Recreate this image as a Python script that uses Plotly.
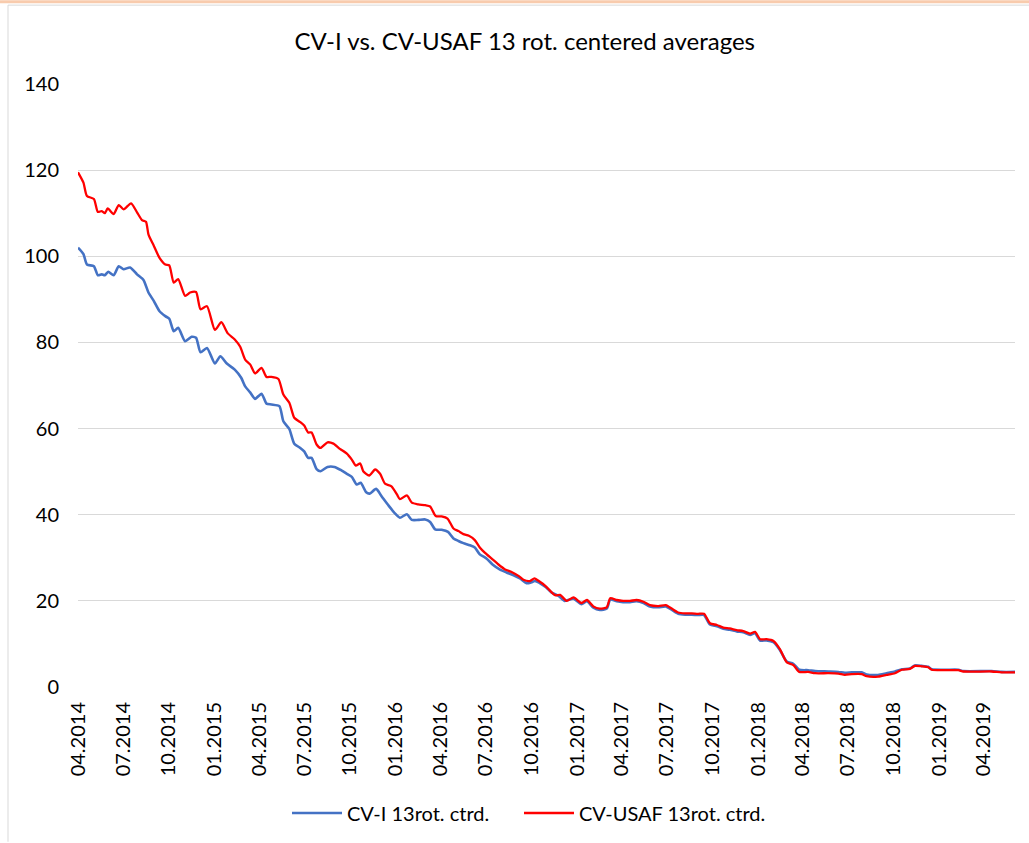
import plotly.graph_objects as go

title_text = "CV-I vs. CV-USAF 13 rot. centered averages"
series_names = ["CV-I 13rot. ctrd.", "CV-USAF 13rot. ctrd."]

cv_usaf_dates = [
    "2014-04-01", "2014-04-12", "2014-04-19", "2014-05-03", "2014-05-11", "2014-05-19", "2014-05-25", "2014-05-31",
    "2014-06-12", "2014-06-22", "2014-07-02", "2014-07-17", "2014-07-29", "2014-08-08", "2014-08-16", "2014-08-21",
    "2014-09-01", "2014-09-12", "2014-09-24", "2014-10-02", "2014-10-11", "2014-10-20", "2014-11-03", "2014-11-13",
    "2014-11-25", "2014-12-04", "2014-12-17", "2015-01-02", "2015-01-15", "2015-01-28", "2015-02-11", "2015-02-22",
    "2015-03-04", "2015-03-14", "2015-03-24", "2015-04-06", "2015-04-16", "2015-04-26", "2015-05-10", "2015-05-20",
    "2015-06-01", "2015-06-11", "2015-06-23", "2015-07-01", "2015-07-09", "2015-07-16", "2015-07-26", "2015-08-03",
    "2015-08-17", "2015-08-29", "2015-09-11", "2015-09-25", "2015-10-05", "2015-10-13", "2015-10-22", "2015-10-28",
    "2015-11-09", "2015-11-21", "2015-12-01", "2015-12-11", "2015-12-24", "2016-01-04", "2016-01-10", "2016-01-24",
    "2016-02-03", "2016-02-16", "2016-03-01", "2016-03-11", "2016-03-22", "2016-04-03", "2016-04-15", "2016-04-27",
    "2016-05-07", "2016-05-17", "2016-05-28", "2016-06-09", "2016-06-19", "2016-06-29", "2016-07-13", "2016-07-26",
    "2016-08-09", "2016-08-22", "2016-09-05", "2016-09-15", "2016-09-28", "2016-10-07", "2016-10-16", "2016-10-29",
    "2016-11-08", "2016-11-18", "2016-11-28", "2016-12-11", "2016-12-25", "2017-01-10", "2017-01-21", "2017-02-03",
    "2017-02-16", "2017-03-02", "2017-03-09", "2017-03-22", "2017-04-04", "2017-04-18", "2017-05-01", "2017-05-15",
    "2017-05-28", "2017-06-14", "2017-06-29", "2017-07-11", "2017-07-24", "2017-08-07", "2017-08-20", "2017-09-02",
    "2017-09-14", "2017-09-26", "2017-10-10", "2017-10-23", "2017-11-05", "2017-11-19", "2017-12-02", "2017-12-16",
    "2017-12-26", "2018-01-05", "2018-01-18", "2018-02-01", "2018-02-14", "2018-02-28", "2018-03-13", "2018-03-25",
    "2018-04-12", "2018-04-26", "2018-05-23", "2018-06-12", "2018-06-25", "2018-07-09", "2018-07-29", "2018-08-08",
    "2018-08-31", "2018-09-17", "2018-10-04", "2018-10-18", "2018-11-03", "2018-11-13", "2018-11-27", "2018-12-10",
    "2018-12-17", "2019-01-13", "2019-02-09", "2019-02-19", "2019-04-17", "2019-05-07", "2019-06-03",
]
cv_usaf_values = [
    119.5, 117.1, 114.0, 113.3, 110.3, 110.5, 110.0, 111.1,
    109.8, 111.9, 110.9, 112.3, 110.2, 108.4, 108.0, 105.1,
    102.4, 99.7, 98.1, 97.9, 93.9, 94.7, 90.8, 91.6,
    91.7, 87.7, 88.4, 82.9, 84.7, 82.1, 80.7, 79.0,
    76.0, 74.9, 72.8, 74.1, 72.0, 72.0, 71.5, 67.9,
    66.0, 62.5, 61.5, 60.7, 59.1, 59.1, 56.3, 55.5,
    56.8, 56.5, 55.3, 54.2, 52.8, 51.4, 51.9, 50.1,
    49.1, 50.5, 49.5, 47.2, 46.6, 44.7, 43.6, 44.5,
    42.8, 42.4, 42.2, 41.9, 39.7, 39.6, 39.1, 36.8,
    36.2, 35.5, 35.1, 34.1, 32.4, 31.2, 29.8, 28.5,
    27.3, 26.7, 25.8, 24.9, 24.6, 25.2, 24.6, 23.5,
    22.3, 21.3, 21.4, 20.0, 20.8, 19.5, 20.2, 18.7,
    18.2, 18.5, 20.6, 20.2, 20.0, 20.0, 20.2, 19.8,
    19.0, 18.8, 19.0, 18.2, 17.3, 17.1, 17.1, 17.0,
    17.0, 14.8, 14.4, 13.8, 13.6, 13.2, 13.0, 12.4,
    12.8, 11.1, 11.1, 10.7, 8.8, 5.7, 5.1, 3.5,
    3.5, 3.2, 3.2, 3.1, 2.8, 3.0, 3.0, 2.5,
    2.4, 2.8, 3.2, 4.0, 4.2, 4.9, 4.8, 4.6,
    4.0, 3.9, 3.9, 3.6, 3.6, 3.4, 3.4,
]

cv_i_dates = [
    "2014-04-01", "2014-04-12", "2014-04-19", "2014-05-03", "2014-05-11", "2014-05-19", "2014-05-25", "2014-06-01",
    "2014-06-12", "2014-06-22", "2014-07-02", "2014-07-15", "2014-07-29", "2014-08-11", "2014-08-21", "2014-09-01",
    "2014-09-12", "2014-09-24", "2014-10-02", "2014-10-11", "2014-10-20", "2014-11-03", "2014-11-16", "2014-11-25",
    "2014-12-04", "2014-12-17", "2015-01-02", "2015-01-13", "2015-01-26", "2015-02-11", "2015-02-24", "2015-03-04",
    "2015-03-14", "2015-03-24", "2015-04-06", "2015-04-16", "2015-04-26", "2015-05-12", "2015-05-20", "2015-06-01",
    "2015-06-11", "2015-06-23", "2015-07-01", "2015-07-09", "2015-07-16", "2015-07-26", "2015-08-03", "2015-08-17",
    "2015-08-31", "2015-09-14", "2015-09-25", "2015-10-05", "2015-10-15", "2015-10-23", "2015-11-03", "2015-11-10",
    "2015-11-23", "2015-12-04", "2015-12-17", "2015-12-31", "2016-01-10", "2016-01-24", "2016-02-03", "2016-02-16",
    "2016-03-01", "2016-03-11", "2016-03-21", "2016-04-03", "2016-04-16", "2016-04-27", "2016-05-07", "2016-05-17",
    "2016-05-30", "2016-06-09", "2016-06-19", "2016-07-03", "2016-07-16", "2016-07-29", "2016-08-12", "2016-08-25",
    "2016-09-08", "2016-09-21", "2016-10-01", "2016-10-08", "2016-10-21", "2016-10-31", "2016-11-11", "2016-11-24",
    "2016-12-07", "2016-12-25", "2017-01-10", "2017-01-21", "2017-02-03", "2017-02-16", "2017-03-02", "2017-03-09",
    "2017-03-22", "2017-04-04", "2017-04-18", "2017-05-01", "2017-05-15", "2017-05-28", "2017-06-14", "2017-06-29",
    "2017-07-11", "2017-07-24", "2017-08-07", "2017-08-20", "2017-09-02", "2017-09-14", "2017-09-26", "2017-10-10",
    "2017-10-23", "2017-11-05", "2017-11-19", "2017-12-02", "2017-12-16", "2017-12-26", "2018-01-05", "2018-01-18",
    "2018-02-01", "2018-02-14", "2018-02-28", "2018-03-13", "2018-03-25", "2018-04-12", "2018-04-26", "2018-05-23",
    "2018-06-12", "2018-06-25", "2018-07-09", "2018-07-29", "2018-08-08", "2018-08-31", "2018-09-17", "2018-10-04",
    "2018-10-18", "2018-11-03", "2018-11-13", "2018-11-27", "2018-12-10", "2018-12-17", "2019-01-13", "2019-02-09",
    "2019-02-19", "2019-04-17", "2019-05-07", "2019-06-03",
]
cv_i_values = [
    102.0, 100.5, 98.1, 97.7, 95.6, 95.8, 95.6, 96.4,
    95.6, 97.7, 97.0, 97.4, 95.8, 94.5, 91.6, 89.6,
    87.3, 86.1, 85.5, 82.6, 83.4, 80.3, 81.3, 81.1,
    77.7, 78.7, 75.1, 76.8, 75.1, 73.7, 71.8, 69.8,
    68.4, 66.9, 68.1, 65.8, 65.6, 65.2, 61.7, 59.9,
    56.5, 55.5, 54.7, 53.2, 53.2, 50.6, 50.1, 51.1,
    51.1, 50.3, 49.5, 48.8, 47.0, 47.4, 45.2, 44.9,
    46.0, 44.3, 42.3, 40.3, 39.3, 40.1, 38.8, 38.8,
    38.9, 38.3, 36.6, 36.5, 36.0, 34.5, 33.9, 33.4,
    32.9, 32.4, 30.8, 29.8, 28.3, 27.3, 26.6, 26.0,
    25.2, 24.1, 24.3, 24.6, 23.9, 23.1, 21.9, 21.2,
    20.0, 20.5, 19.2, 19.9, 18.4, 17.9, 18.2, 20.3,
    19.9, 19.7, 19.7, 19.9, 19.5, 18.7, 18.5, 18.7,
    17.9, 17.0, 16.8, 16.8, 16.7, 16.7, 14.5, 14.1,
    13.5, 13.3, 12.9, 12.7, 12.1, 12.5, 10.8, 10.8,
    10.4, 8.6, 5.9, 5.4, 4.0, 3.9, 3.7, 3.6,
    3.5, 3.3, 3.4, 3.4, 2.9, 2.8, 3.2, 3.6,
    4.1, 4.3, 5.0, 4.9, 4.7, 4.1, 4.0, 4.0,
    3.7, 3.7, 3.5, 3.5,
]

tick_dates = [
    "2014-04-01", "2014-07-01", "2014-10-01", "2015-01-01", "2015-04-01", "2015-07-01", "2015-10-01",
    "2016-01-01", "2016-04-01", "2016-07-01", "2016-10-01", "2017-01-01", "2017-04-01", "2017-07-01",
    "2017-10-01", "2018-01-01", "2018-04-01", "2018-07-01", "2018-10-01", "2019-01-01", "2019-04-01",
]
tick_labels = [
    "04.2014", "07.2014", "10.2014", "01.2015", "04.2015", "07.2015", "10.2015",
    "01.2016", "04.2016", "07.2016", "10.2016", "01.2017", "04.2017", "07.2017",
    "10.2017", "01.2018", "04.2018", "07.2018", "10.2018", "01.2019", "04.2019",
]
y_ticks = [0, 20, 40, 60, 80, 100, 120, 140]

FONT = "Lato"
W, H = 1029, 843
L, R, T, B = 78, 14, 84, 155
pw, ph = W - L - R, H - T - B


def px(x):
    return (x - L) / pw


def py(y):
    return (H - B - y) / ph


fig = go.Figure()
fig.add_trace(go.Scatter(x=cv_i_dates, y=cv_i_values, mode="lines", name=series_names[0], legend="legend",
                         line=dict(color="#4472C4", width=2.6, shape="spline", smoothing=0.6)))
fig.add_trace(go.Scatter(x=cv_usaf_dates, y=cv_usaf_values, mode="lines", name=series_names[1], legend="legend2",
                         line=dict(color="#FF0000", width=2.3, shape="spline", smoothing=0.6)))

shapes = [
    dict(type="rect", xref="paper", yref="paper", x0=px(0), x1=px(W), y0=py(3), y1=py(0),
         fillcolor="#F8CBAD", line=dict(width=0), layer="below"),
    dict(type="line", xref="paper", yref="paper", x0=px(8), x1=px(W), y0=py(5), y1=py(5),
         line=dict(color="#D9D9D9", width=1)),
    dict(type="line", xref="paper", yref="paper", x0=px(8), x1=px(8), y0=py(5), y1=py(H),
         line=dict(color="#D9D9D9", width=1)),
]

legend_common = dict(orientation="h", xanchor="left", y=py(813), yanchor="middle",
                     font=dict(family=FONT, size=20, color="#000000"),
                     itemwidth=50, bgcolor="rgba(0,0,0,0)")

fig.update_layout(
    width=W, height=H,
    margin=dict(l=L, r=R, t=T, b=B),
    paper_bgcolor="white", plot_bgcolor="white",
    font=dict(family=FONT, size=20, color="#000000"),
    title=dict(text=title_text, x=0.51, xref="container", xanchor="center",
               y=1 - 42 / H, yref="container", yanchor="middle",
               font=dict(family=FONT, size=24, color="#000000")),
    showlegend=True,
    legend=dict(x=px(287), **legend_common),
    legend2=dict(x=px(519), **legend_common),
    shapes=shapes,
    xaxis=dict(type="date", range=["2014-04-01", "2019-06-03"],
               tickvals=tick_dates, ticktext=tick_labels, tickangle=-90,
               showgrid=False, showline=False, zeroline=False, ticks="",
               ticklabelstandoff=10,
               tickfont=dict(family=FONT, size=20, color="#000000")),
    yaxis=dict(range=[0, 140], tickvals=y_ticks, showgrid=True, gridcolor="#D9D9D9", gridwidth=1,
               zeroline=False, showline=False, ticks="", ticklabelstandoff=18,
               tickfont=dict(family=FONT, size=20, color="#000000")),
)

fig.write_html("out.html", config={"displayModeBar": False},
               post_script="document.body.style.margin='0px';document.body.style.overflow='hidden';")
